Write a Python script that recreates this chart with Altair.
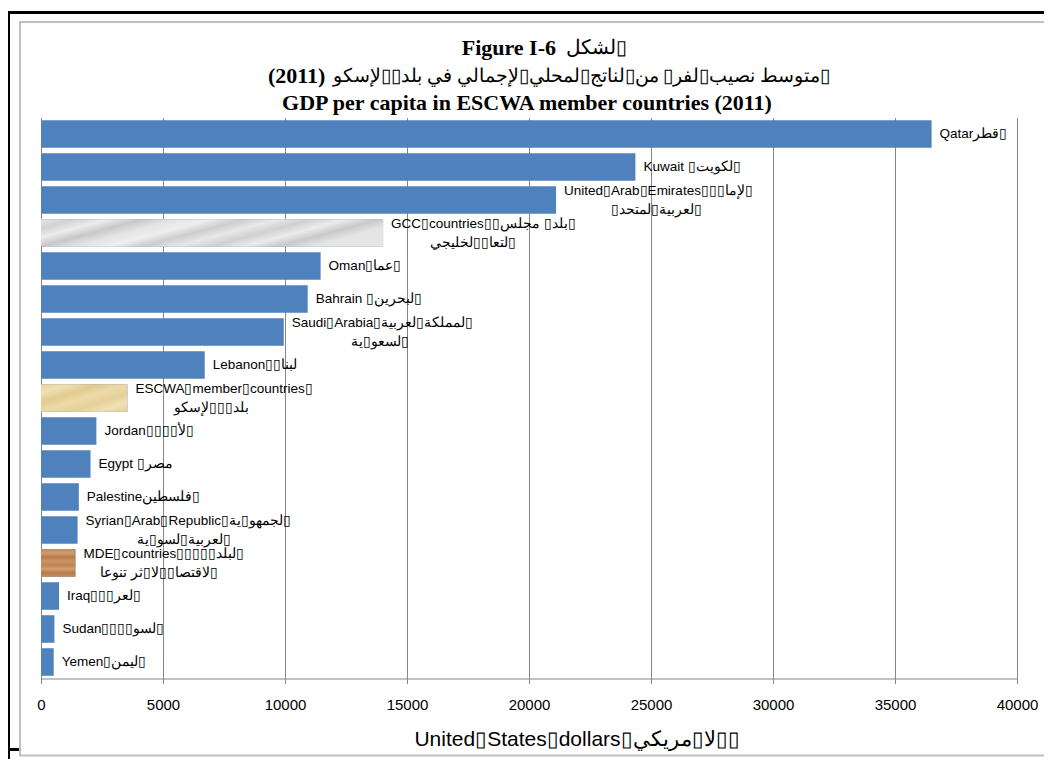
import altair as alt
import pandas as pd

RLM = "\u200f"
B = "\u25af"  # missing-glyph box as seen in the reference

# ---------------- data ----------------
countries = ["Qatar", "Kuwait", "United Arab Emirates", "GCC countries", "Oman",
             "Bahrain", "Saudi Arabia", "Lebanon", "ESCWA member countries", "Jordan",
             "Egypt", "Palestine", "Syrian Arab Republic", "MDE countries", "Iraq",
             "Sudan", "Yemen"]
gdp_per_capita = [36500, 24360, 21110, 14020, 11460, 10930, 9950, 6710, 3540,
                  2270, 2030, 1550, 1500, 1410, 740, 550, 520]
label_en = ["Qatar", "Kuwait ", f"United{B}Arab{B}Emirates", f"GCC{B}countries", "Oman",
            "Bahrain ", f"Saudi{B}Arabia", "Lebanon", f"ESCWA{B}member{B}countries{B}",
            "Jordan", f"Egypt {B}", "Palestine", f"Syrian{B}Arab{B}Republic",
            f"MDE{B}countries", "Iraq", "Sudan", "Yemen"]
label_ar1 = [f"{B}قطر", f"{B}لكويت{B}", f"{B}لإما{B}{B}{B}", f"{B}بلد{B} مجلس{B}{B}", f"{B}عما{B}",
             f"{B}لبحرين{B}", f"{B}لمملكة{B}لعربية{B}", f"لبنا{B}{B}", "",
             f"{B}لأ{B}{B}{B}{B}", "مصر", f"{B}فلسطين", f"{B}لجمهو{B}ية{B}",
             f"{B}لبلد{B}{B}{B}{B}{B}", f"{B}لعر{B}{B}{B}", f"{B}لسو{B}{B}{B}{B}", f"{B}ليمن{B}"]
label_ar2 = ["", "", f"{B}لعربية{B}لمتحد{B}", f"{B}لتعا{B}{B}لخليجي", "", "",
             f"{B}لسعو{B}ية", "", f"بلد{B}{B}{B}لإسكو", "", "", "",
             f"{B}لعربية{B}لسو{B}ية", f"{B}لاقتصا{B}{B}لا{B}ثر تنوعا", "", "", ""]
aggregates = ["GCC countries", "ESCWA member countries", "MDE countries"]

x_ticks = [0, 5000, 10000, 15000, 20000, 25000, 30000, 35000, 40000]

title_line1_en = "Figure I-6"
title_line1_ar = f"{B}لشكل"
title_line2_ar = f"{B}متوسط نصيب{B}لفر{B} من{B}لناتج{B}لمحلي{B}لإجمالي في بلد{B}{B}لإسكو"
title_line2_year = "(2011)"
title_line3 = "GDP per capita in ESCWA member countries (2011)"
x_title_en = f"United{B}States{B}dollars{B}"
x_title_ar = f"{B}{B}لا{B}مريكي"


def rtl(s):
    return RLM + s + RLM if s else ""


df = pd.DataFrame({
    "country": countries,
    "gdp": gdp_per_capita,
    "en": label_en,
    "ar1": label_ar1,
    "line1": [e + rtl(a) for e, a in zip(label_en, label_ar1)],
    "line2": [rtl(a) for a in label_ar2],
    "nlines": [2 if a else 1 for a in label_ar2],
})

BLUE = "#4F81BD"
GRID = "#868686"
W, H = 976, 561
PX2DATA = 40000 / W

x_axis = alt.Axis(values=x_ticks, format="d", grid=True, gridColor=GRID, gridWidth=1,
                  domainColor=GRID, tickColor=GRID, tickSize=5, labelFont="Liberation Sans",
                  labelFontSize=15, labelColor="black", labelBaseline="middle",
                  labelPadding=21, title=None, labelFlush=False)
x_scale = alt.Scale(domain=[0, 40000], nice=False, zero=True)
y_enc = alt.Y("country:N", sort=countries,
              scale=alt.Scale(paddingInner=0.165, paddingOuter=0.0825),
              axis=alt.Axis(labels=False, ticks=False, title=None, grid=False,
                            domainColor=GRID))

base = alt.Chart(df)

bars = base.mark_bar(color=BLUE).encode(
    x=alt.X("gdp:Q", scale=x_scale, axis=x_axis), y=y_enc)


def stops(cols):
    n = len(cols) - 1
    return [alt.GradientStop(color=c, offset=i / n) for i, c in enumerate(cols)]


marble = alt.LinearGradient(gradient="linear", x1=0, y1=0, x2=1, y2=0.3, stops=stops(
    ["#e6e6e6", "#d2d2d2", "#ececec", "#c8c8c8", "#e4e4e4", "#eeeeee", "#cdcdcd",
     "#e8e8e8", "#d0d0d0", "#ebebeb", "#c9c9c9", "#e5e5e5"]))
papyrus = alt.LinearGradient(gradient="linear", x1=0, y1=0, x2=1, y2=1, stops=stops(
    ["#e9d6a0", "#efdfb2", "#e2cb8e", "#ecdaa8", "#e5d098", "#f0e1b6", "#e4ce94"]))
wood = alt.LinearGradient(gradient="linear", x1=0, y1=0, x2=0, y2=1, stops=stops(
    ["#c48a58", "#d29c6a", "#b87b4b", "#cd9463", "#bf8352", "#d59f6e", "#b77849",
     "#c99060"]))

tex_layers = []
for name, fill in zip(aggregates, [marble, papyrus, wood]):
    tex_layers.append(
        base.transform_filter(alt.datum.country == name).mark_bar(color=fill).encode(
            x=alt.X("gdp:Q", scale=x_scale, axis=x_axis), y=y_enc))

txt_kw = dict(font="Liberation Sans", fontSize=13.5, color="black", baseline="middle")

lab_single = base.transform_filter("datum.nlines == 1").mark_text(
    align="left", dx=8, **txt_kw).encode(
    x=alt.X("gdp:Q", scale=x_scale, axis=x_axis), y=y_enc, text="line1:N")
lab_first = base.transform_filter("datum.nlines == 2").mark_text(
    align="left", dx=8, dy=-9.5, **txt_kw).encode(
    x=alt.X("gdp:Q", scale=x_scale, axis=x_axis), y=y_enc, text="line1:N")
lab_second = base.transform_filter("datum.nlines == 2").transform_calculate(
    xc=f"datum.gdp + (8 + (length(datum.en) * 6.65 + length(datum.ar1) * 6.45) / 2) * {PX2DATA}"
).mark_text(align="center", dy=9.5, **txt_kw).encode(
    x=alt.X("xc:Q", scale=x_scale, axis=x_axis), y=y_enc, text="line2:N")


def deco_text(s, x, y, align, font, size, weight="normal"):
    return alt.Chart(pd.DataFrame({"t": [s]})).mark_text(
        align=align, baseline="middle", font=font, fontSize=size, fontWeight=weight,
        color="black").encode(x=alt.value(x), y=alt.value(y), text="t:N")


def deco_rule(x, x2, y, y2, color, width):
    return alt.Chart(pd.DataFrame({"k": [0]})).mark_rule(
        color=color, strokeWidth=width).encode(
        x=alt.value(x), x2=alt.value(x2), y=alt.value(y), y2=alt.value(y2))


SERIF = "Liberation Serif"
titles = [
    deco_text(title_line1_en, 515, -70, "right", SERIF, 22, "bold"),
    deco_text(rtl(title_line1_ar), 525, -70, "left", SERIF, 20),
    deco_text(title_line2_year, 227, -42, "left", SERIF, 22, "bold"),
    deco_text(rtl(title_line2_ar), 789, -42, "right", SERIF, 19),
    deco_text(title_line3, 486, -15, "center", SERIF, 22, "bold"),
    deco_text(x_title_en + rtl(x_title_ar), 536, 622, "center", "Liberation Sans", 21),
]

LIGHT = "#c0c0c0"
frames = [
    deco_rule(-34, 1010, -105, -105, "black", 3),
    deco_rule(-32.5, -32.5, -106.5, 650, "black", 3),
    deco_rule(-34, -21, 632, 632, "black", 3),
    deco_rule(-21, -21, -96, 638, LIGHT, 2),
    deco_rule(-22, 1010, -95.5, -95.5, LIGHT, 2),
    deco_rule(-22, 1010, 638, 638, LIGHT, 2),
]

chart = alt.layer(
    *frames, bars, *tex_layers, lab_single, lab_first, lab_second, *titles
).properties(
    width=W, height=H,
    padding={"left": 33, "top": 109.5, "right": 27, "bottom": 80},
    autosize=alt.AutoSizeParams(type="none"),
    background="white",
).configure_view(strokeWidth=0)

chart.save("out.html", embed_options={"renderer": "svg", "actions": False})
